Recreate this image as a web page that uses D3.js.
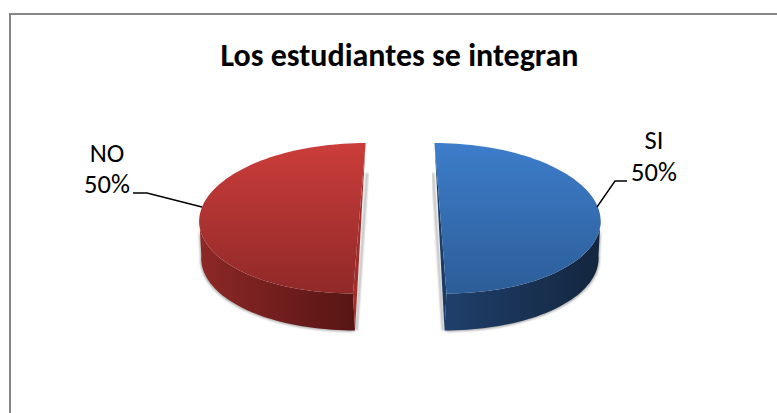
<!DOCTYPE html>
<html><head><meta charset="utf-8">
<script src="https://cdn.jsdelivr.net/npm/d3@7"></script>
<style>html,body{margin:0;padding:0;background:#fff}svg{display:block}text{font-family:Carlito,Calibri,"Open Sans","Liberation Sans",sans-serif}</style>
</head><body><svg id="c" width="777" height="413"></svg>
<script>
const categories=["SI","NO"];
const values=[50,50];
const percentLabels=["50%","50%"];
const title="Los estudiantes se integran";
const topColors=[["#3d7dca","#2c5d98"],["#cb3d3a","#8f2928"]];
const sideColors=[["#1f3f6b","#14263f"],["#8c2826","#561514"]];
const innerFaceColors=["#1c3c68","#a32e2c"];

const svg=d3.select("#c");
const defs=svg.append("defs");
svg.append("path").attr("d","M10 413V14H777").attr("fill","none").attr("stroke","#868686").attr("stroke-width",2);
svg.append("text").attr("x",399.5).attr("y",66).attr("text-anchor","middle").attr("font-size",32).attr("font-weight",700).attr("fill","#000").text(title);

defs.append("filter").attr("id","sh").attr("x","-10%").attr("y","-10%").attr("width","120%").attr("height","120%")
  .append("feGaussianBlur").attr("stdDeviation",1);

const arcs=d3.pie().sort(null).value(d=>d).startAngle(0).endAngle(2*Math.PI)(values);
const rx=d3.scaleLinear().domain([0,1]).range([0,160]);
const ry=d3.scaleLinear().domain([0,1]).range([0,75.25]);
const cy=218.25,depth=37,inset=[-2,2];
const cx=[440.5,359.3],skew=[-6,6.3];
const pt=(i,a)=>[cx[i]+rx(1)*Math.sin(a)+skew[i]*Math.cos(a),cy-ry(1)*Math.cos(a)];
const low=(i,a)=>{const p=pt(i,a);return [p[0]+inset[i],p[1]+depth];};
const line=d3.line();

arcs.forEach((s,i)=>{
  const n=d3.range(0,91).map(k=>s.startAngle+(s.endAngle-s.startAngle)*k/90);
  const g=svg.append("g");
  const vis=n.filter(a=>Math.cos(a)<=0.02);
  const wall=line(vis.map(a=>pt(i,a)).concat(vis.map(a=>low(i,a)).reverse()))+"Z";
  const out=i===0?1:-1;

  const lg=defs.append("linearGradient").attr("id","w"+i).attr("gradientUnits","userSpaceOnUse")
    .attr("x1",i===0?598:202).attr("x2",i===0?445:355).attr("y1",0).attr("y2",0);
  lg.append("stop").attr("offset",0).attr("stop-color",i===0?sideColors[0][1]:sideColors[1][0]);
  lg.append("stop").attr("offset",1).attr("stop-color",i===0?sideColors[0][0]:sideColors[1][1]);
  const tg=defs.append("linearGradient").attr("id","t"+i).attr("gradientUnits","userSpaceOnUse")
    .attr("x1",0).attr("x2",0).attr("y1",143).attr("y2",294);
  topColors[i].forEach((c,k)=>tg.append("stop").attr("offset",k).attr("stop-color",c));

  // soft shadows
  g.append("path").attr("d",wall).attr("fill","#777").attr("opacity",.6).attr("filter","url(#sh)")
    .attr("transform",`translate(${out*1},1.2)`);
  const a0=pt(i,0),a1=pt(i,Math.PI),b1=low(i,Math.PI);
  const shadowTop=[a0[0]-out*1.5,a0[1]+30];
  g.append("path").attr("d",line([shadowTop,[b1[0]-out*1.5,b1[1]]])).attr("fill","none")
    .attr("stroke","#888").attr("stroke-width",2).attr("opacity",.7).attr("filter","url(#sh)");

  g.append("path").attr("d",wall).attr("fill",`url(#w${i})`);
  // cut face, visible as a narrow sliver beside the flat edge
  g.append("path").attr("d",line([a0,a1,b1])+"Z").attr("fill",innerFaceColors[i]);
  g.append("path").attr("d",line(n.map(a=>pt(i,a)))+"Z").attr("fill",`url(#t${i})`);
});

const labelPos=[[654,149],[107,162]];
const labelGap=[32,31];
const leaders=[[[597,207],[615,181],[627,181]],[[202,207],[147,193],[133,193]]];
categories.forEach((c,i)=>{
  svg.append("path").attr("d",line(leaders[i])).attr("fill","none").attr("stroke","#000").attr("stroke-width",1.4);
  const t=svg.append("text").attr("text-anchor","middle").attr("font-size",26.5).attr("fill","#000");
  t.append("tspan").attr("x",labelPos[i][0]).attr("y",labelPos[i][1]).text(c);
  t.append("tspan").attr("x",labelPos[i][0]).attr("dy",labelGap[i]).text(percentLabels[i]);
});
</script></body></html>
